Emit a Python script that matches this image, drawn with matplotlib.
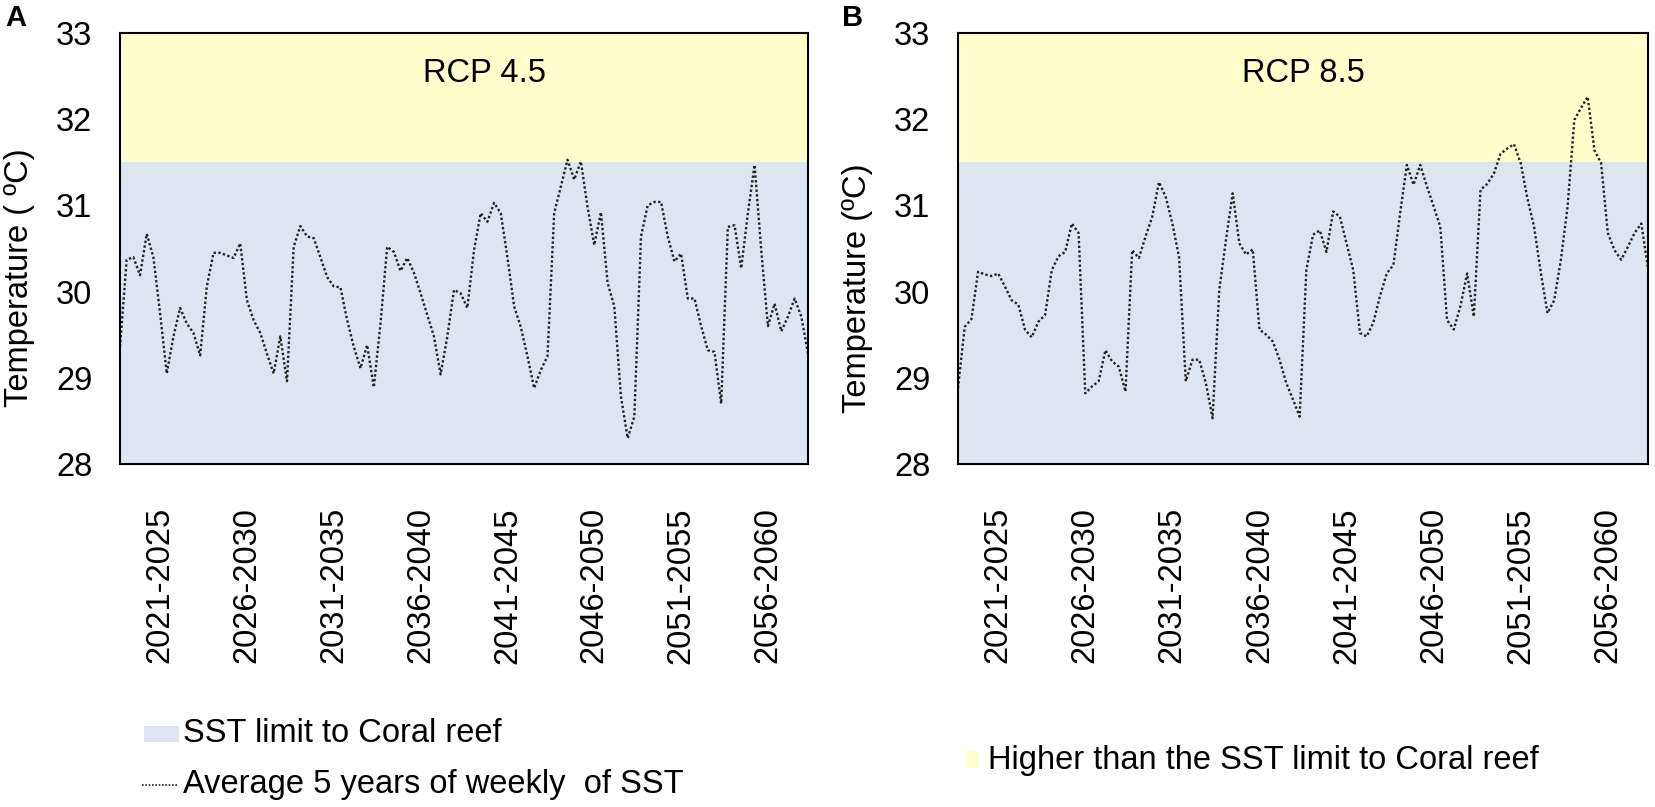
import numpy as np
import matplotlib
matplotlib.use('Agg')
import matplotlib.pyplot as plt
from matplotlib.patches import Rectangle
from matplotlib.lines import Line2D

plt.rcParams['font.family'] = ['Liberation Sans', 'DejaVu Sans']

# 5-year periods on the x axis (13 points per period)
periods = ['2021-2025', '2026-2030', '2031-2035', '2036-2040',
           '2041-2045', '2046-2050', '2051-2055', '2056-2060']
points_per_period = 13

# SST series (degrees C)
rcp45 = [29.36, 30.37, 30.40, 30.19, 30.67, 30.40, 29.75, 29.05, 29.48, 29.81,
         29.63, 29.52, 29.26, 30.06, 30.45, 30.45, 30.42, 30.39, 30.56, 29.90,
         29.67, 29.52, 29.28, 29.05, 29.48, 28.96, 30.52, 30.76, 30.64, 30.62,
         30.40, 30.17, 30.06, 30.05, 29.67, 29.36, 29.11, 29.38, 28.89, 29.63,
         30.52, 30.46, 30.24, 30.39, 30.22, 29.98, 29.73, 29.48, 29.04, 29.48,
         30.02, 29.98, 29.81, 30.48, 30.91, 30.81, 31.03, 30.91, 30.40, 29.83,
         29.59, 29.25, 28.88, 29.09, 29.25, 30.91, 31.22, 31.53, 31.30, 31.51,
         30.98, 30.54, 30.92, 30.10, 29.83, 28.78, 28.30, 28.55, 30.64, 31.00,
         31.04, 31.04, 30.64, 30.35, 30.44, 29.92, 29.92, 29.60, 29.32, 29.30,
         28.70, 30.75, 30.77, 30.27, 30.91, 31.47, 30.48, 29.60, 29.86, 29.54,
         29.71, 29.92, 29.71, 29.28]

rcp85 = [28.88, 29.59, 29.68, 30.23, 30.20, 30.18, 30.21, 30.06, 29.90, 29.85,
         29.56, 29.47, 29.65, 29.73, 30.25, 30.41, 30.46, 30.79, 30.68, 28.82,
         28.90, 28.96, 29.32, 29.19, 29.13, 28.84, 30.48, 30.39, 30.64, 30.87,
         31.27, 31.10, 30.79, 30.40, 28.96, 29.21, 29.21, 28.94, 28.53, 30.02,
         30.60, 31.14, 30.56, 30.43, 30.49, 29.56, 29.50, 29.42, 29.21, 28.94,
         28.75, 28.55, 30.25, 30.66, 30.71, 30.46, 30.93, 30.87, 30.56, 30.25,
         29.52, 29.48, 29.64, 29.95, 30.21, 30.31, 30.91, 31.47, 31.24, 31.47,
         31.22, 30.99, 30.75, 29.67, 29.56, 29.83, 30.21, 29.71, 31.18, 31.25,
         31.37, 31.60, 31.66, 31.71, 31.49, 31.08, 30.75, 30.22, 29.75, 29.90,
         30.37, 30.99, 31.99, 32.13, 32.26, 31.64, 31.49, 30.68, 30.48, 30.37,
         30.52, 30.68, 30.79, 30.27]

sst_limit = 31.5
y_min, y_max = 28, 33

blue = '#DCE6F2'
yellow = '#FFFFCC'
fs = 23.5

W, H = 1655, 807
fig = plt.figure(figsize=(W / 100, H / 100), dpi=100)


def box(x0, y0, x1, y1):
    # pixel box (from top-left) -> figure fraction rect
    return [x0 / W, 1 - y1 / H, (x1 - x0) / W, (y1 - y0) / H]


def fx(x):
    return x / W


def fy(y):
    return 1 - y / H


panels = [
    (box(120, 33, 808, 464), rcp45, 'RCP 4.5', 0.53, 'A', 16, 'Temperature ( ºC)', 20, 278),
    (box(958, 33, 1648, 464), rcp85, 'RCP 8.5', 0.50, 'B', 853, 'Temperature (ºC)', 857, 288),
]

for rect, vals, title, title_x, letter, letter_x, ylab, ylab_x, ylab_y in panels:
    ax = fig.add_axes(rect)
    x = np.arange(len(vals))
    ax.axhspan(y_min, sst_limit, color=blue, lw=0, zorder=0)
    ax.axhspan(sst_limit, y_max, color=yellow, lw=0, zorder=0)
    ax.plot(x, vals, color='#222222', lw=1.7, linestyle=(0, (1, 1)))
    ax.set_xlim(0, len(vals) - 1)
    ax.set_ylim(y_min, y_max)
    ax.set_yticks(range(y_min, y_max + 1))
    ax.tick_params(axis='y', length=0, pad=20, labelsize=fs)
    centers = [points_per_period * k + (points_per_period - 1) / 2 for k in range(len(periods))]
    ax.set_xticks(centers)
    ax.set_xticklabels(periods, rotation=90)
    ax.tick_params(axis='x', length=0, pad=31, labelsize=fs)
    for s in ax.spines.values():
        s.set_linewidth(1.5)
    ax.text(title_x, 0.907, title, transform=ax.transAxes, ha='center', va='center', fontsize=fs)
    fig.text(fx(letter_x), fy(18), letter, fontweight='bold', fontsize=21, ha='center', va='center')
    fig.text(fx(ylab_x), fy(ylab_y), ylab, rotation=90, ha='center', va='center', fontsize=fs)

# legends, drawn by hand
fig.add_artist(Rectangle((fx(144), fy(742)), (179 - 144) / W, 16 / H,
                         transform=fig.transFigure, facecolor=blue, edgecolor='none'))
fig.text(fx(183), fy(733), 'SST limit to Coral reef', ha='left', va='center', fontsize=fs)
fig.add_artist(Line2D([fx(142), fx(178)], [fy(785), fy(785)], transform=fig.transFigure,
                      color='#222222', lw=1.2, linestyle=(0, (1, 1))))
fig.text(fx(183), fy(785), 'Average 5 years of weekly  of SST', ha='left', va='center', fontsize=fs)

fig.add_artist(Rectangle((fx(966), fy(768)), 12 / W, 17 / H,
                         transform=fig.transFigure, facecolor=yellow, edgecolor='none'))
fig.text(fx(988), fy(760), 'Higher than the SST limit to Coral reef', ha='left', va='center', fontsize=fs)

fig.savefig('out.png', dpi=100)
